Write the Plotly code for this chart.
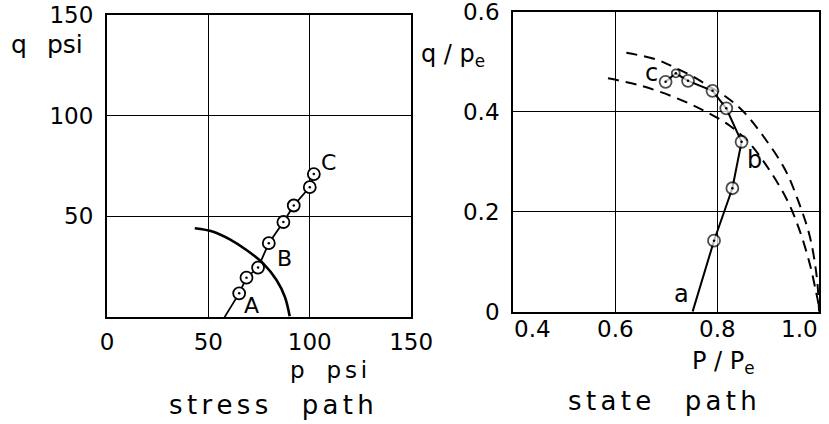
import plotly.graph_objects as go

# ---- stress path (left panel), psi ----
stress_start_p = [58.0]
stress_start_q = [0.0]
stress_p = [65.2, 68.8, 74.5, 79.8, 87.0, 92.1, 100.0, 102.0]
stress_q = [11.8, 19.6, 24.6, 36.7, 47.2, 55.4, 64.5, 71.0]

yield_p = [43.3, 52.4, 60.6, 68.8, 77.0, 83.6, 87.7, 90.1]
yield_q = [44.1, 42.4, 38.6, 33.3, 26.7, 18.4, 10.1, 0.5]

stress_ticks = [0, 50, 100, 150]
stress_qticks = [50, 100, 150]

# ---- state path (right panel), normalised by p_e ----
state_start_p = [0.752]
state_start_q = [0.0]
state_p = [0.794, 0.830, 0.848, 0.818, 0.791, 0.743, 0.719, 0.699]
state_q = [0.142, 0.247, 0.340, 0.407, 0.442, 0.462, 0.477, 0.460]
state_sizes = [12, 12, 12, 12, 12, 12, 8, 12]

outer_p = [0.622, 0.680, 0.714, 0.750, 0.786, 0.820, 0.852, 0.890, 0.933, 0.959, 0.982, 0.996, 1.0]
outer_q = [0.518, 0.505, 0.490, 0.472, 0.450, 0.428, 0.400, 0.352, 0.285, 0.222, 0.150, 0.065, 0.0]
inner_p = [0.586, 0.648, 0.714, 0.773, 0.825, 0.861, 0.903, 0.939, 0.962, 0.982, 0.994, 1.0]
inner_q = [0.467, 0.453, 0.430, 0.403, 0.372, 0.340, 0.283, 0.220, 0.162, 0.095, 0.040, 0.01]

state_xticks = [0.4, 0.6, 0.8, 1.0]
state_xtext = ["0.4", "0.6", "0.8", "1.0"]
state_xanchor = ["left", "center", "center", "right"]
state_yticks = [0, 0.2, 0.4, 0.6]
state_ytext = ["0", "0.2", "0.4", "0.6"]

FONT = "DejaVu Sans"
INK = "black"
GAP = "\u2006"  # six-per-em space for the wide lettering


def spaced(word):
    return GAP.join(word)


fig = go.Figure()


def add_points(xs, ys, sizes, xa, ya):
    # open ring with a centre dot
    fig.add_trace(go.Scatter(x=xs, y=ys, mode="markers", xaxis=xa, yaxis=ya,
                             marker=dict(symbol="circle", size=sizes, color="white",
                                         line=dict(color=INK, width=1.8))))
    fig.add_trace(go.Scatter(x=xs, y=ys, mode="markers", xaxis=xa, yaxis=ya,
                             marker=dict(symbol="circle", size=2.5, color=INK, line=dict(width=0))))


# left panel
fig.add_trace(go.Scatter(x=yield_p, y=yield_q, mode="lines", line=dict(color=INK, width=2.6, shape="spline"),
                         xaxis="x", yaxis="y"))
fig.add_trace(go.Scatter(x=stress_start_p + stress_p, y=stress_start_q + stress_q, mode="lines",
                         line=dict(color=INK, width=1.8), xaxis="x", yaxis="y"))
add_points(stress_p, stress_q, 12, "x", "y")

# right panel
fig.add_trace(go.Scatter(x=outer_p, y=outer_q, mode="lines",
                         line=dict(color=INK, width=2, dash="11px,7px", shape="spline"),
                         xaxis="x2", yaxis="y2"))
fig.add_trace(go.Scatter(x=inner_p, y=inner_q, mode="lines",
                         line=dict(color=INK, width=2, dash="11px,7px", shape="spline"),
                         xaxis="x2", yaxis="y2"))
fig.add_trace(go.Scatter(x=state_start_p + state_p, y=state_start_q + state_q, mode="lines",
                         line=dict(color=INK, width=2), xaxis="x2", yaxis="y2"))
add_points(state_p, state_q, state_sizes, "x2", "y2")

axis_common = dict(showgrid=True, gridcolor=INK, gridwidth=1.3, showline=True, linecolor=INK,
                   linewidth=2, mirror=True, zeroline=False, ticks="", automargin=False,
                   ticklabeloverflow="allow",
                   tickfont=dict(family=FONT, size=23, color=INK), fixedrange=True)

fig.update_layout(
    width=829, height=424, margin=dict(l=0, r=0, t=0, b=0, autoexpand=False),
    paper_bgcolor="white", plot_bgcolor="white", showlegend=False,
    font=dict(family=FONT, color=INK, size=22),
    xaxis=dict(axis_common, domain=[0.129, 0.496], range=[0, 150], tickvals=stress_ticks,
               anchor="y", ticklabelstandoff=3),
    yaxis=dict(axis_common, domain=[0.252, 0.965], range=[0, 150], tickvals=stress_qticks,
               anchor="x", ticklabelstandoff=7),
    xaxis2=dict(axis_common, domain=[0.619, 0.988], range=[0.4, 1.0], tickvals=state_xticks,
                showticklabels=False, anchor="y2"),
    yaxis2=dict(axis_common, domain=[0.265, 0.972], range=[0, 0.6], tickvals=state_yticks,
                ticktext=state_ytext, anchor="x2", ticklabelstandoff=7),
)


def label(text, x, y, xref="paper", yref="paper", size=22, xanchor="center", yanchor="middle"):
    fig.add_annotation(text=text, x=x, y=y, xref=xref, yref=yref, showarrow=False,
                       xanchor=xanchor, yanchor=yanchor, borderpad=0,
                       font=dict(family=FONT, size=size, color=INK))


# tick labels of the state-path abscissa, kept inside the frame at both ends
for val, txt, anc in zip(state_xticks, state_xtext, state_xanchor):
    fig.add_annotation(text=txt, x=val, y=0, xref="x2", yref="y2 domain", showarrow=False,
                       xanchor=anc, yanchor="top", yshift=-3, borderpad=0,
                       font=dict(family=FONT, size=23, color=INK))

# point labels
label("A", 71.3, 5.9, "x", "y")
label("B", 87.7, 29.2, "x", "y")
label("C", 109, 76.5, "x", "y")
label("a", 0.730, 0.035, "x2", "y2", size=24)
label("b", 0.874, 0.303, "x2", "y2", size=24)
label("c", 0.671, 0.478, "x2", "y2", size=24)

# axis titles
label("q" + "  " + GAP + "psi", 0.057, 0.896, size=25)
label("p" + "   " + spaced("psi"), 0.396, 0.128, size=23)
label(spaced("stress") + "   " + GAP + GAP + spaced("path"), 0.327, 0.045, size=26)
label("q / p<sub>e</sub>", 0.546, 0.870, size=24)
label("P / P<sub>e</sub>", 0.873, 0.146, size=24)
label(spaced("state") + "   " + GAP + GAP + spaced("path"), 0.799, 0.054, size=26)

fig.write_html("out.html")
